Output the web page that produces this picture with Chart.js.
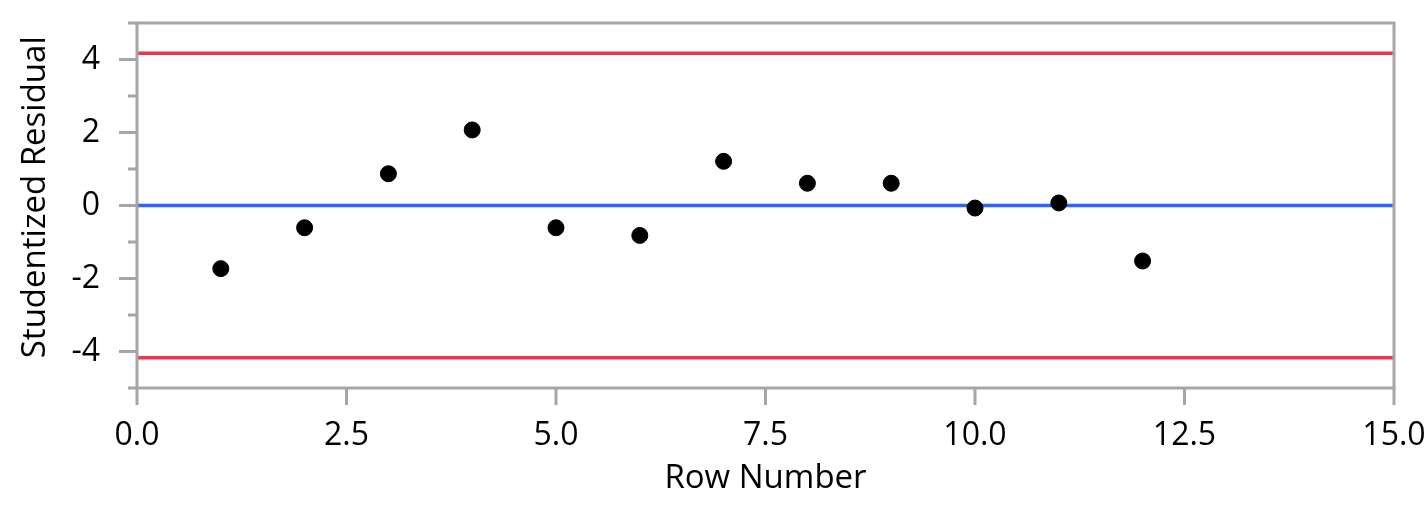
<!DOCTYPE html>
<html>
<head>
<meta charset="utf-8">
<script src="https://cdn.jsdelivr.net/npm/chart.js@4.4.1/dist/chart.umd.min.js"></script>
<style>
  html, body { margin: 0; padding: 0; background: #fff; }
  #wrap { width: 1428px; height: 517px; }
</style>
</head>
<body>
<div id="wrap"><canvas id="grafico" width="1428" height="517"></canvas></div>
<script>
// Datos
const filas = [1, 2, 3, 4, 5, 6, 7, 8, 9, 10, 11, 12];
const residuos = [-1.73, -0.61, 0.87, 2.07, -0.61, -0.82, 1.21, 0.61, 0.61, -0.07, 0.07, -1.52];
const limiteSup = 4.17;
const limiteInf = -4.17;
const centro = 0;
const marcasX = [0, 2.5, 5, 7.5, 10, 12.5, 15];
const marcasY = [-5, -4, -3, -2, -1, 0, 1, 2, 3, 4, 5];

const gris = '#a6a6a6';
const fuente = '"Open Sans", "Noto Sans", sans-serif';

// Marco y marcas de eje dibujadas con las escalas de Chart.js
const marco = {
  id: 'marco',
  afterDraw(chart) {
    const { ctx, chartArea: a, scales: { x, y } } = chart;
    ctx.save();
    ctx.strokeStyle = gris;
    ctx.lineWidth = 3;
    ctx.lineCap = 'butt';
    ctx.strokeRect(a.left, a.top, a.right - a.left, a.bottom - a.top);
    ctx.beginPath();
    // marcas mayores en pares, menores en impares
    y.ticks.forEach(t => {
      const py = y.getPixelForValue(t.value);
      const largo = t.value % 2 === 0 ? 18 : 9;
      ctx.moveTo(a.left - largo, py);
      ctx.lineTo(a.left, py);
    });
    x.ticks.forEach(t => {
      const px = x.getPixelForValue(t.value);
      ctx.moveTo(px, a.bottom);
      ctx.lineTo(px, a.bottom + 17);
    });
    ctx.stroke();
    ctx.restore();
  }
};

const lineaH = (valor, color) => ({
  type: 'line',
  data: [marcasX[0], marcasX[marcasX.length - 1]].map(v => ({ x: v, y: valor })),
  borderColor: color,
  borderWidth: 3.5,
  pointRadius: 0,
  fill: false
});

new Chart(document.getElementById('grafico'), {
  type: 'scatter',
  data: {
    datasets: [
      {
        data: filas.map((f, i) => ({ x: f, y: residuos[i] })),
        backgroundColor: '#000',
        borderColor: '#000',
        pointRadius: 8,
        pointHoverRadius: 8
      },
      lineaH(centro, 'rgb(41, 101, 255)'),
      lineaH(limiteSup, 'rgb(240, 52, 77)'),
      lineaH(limiteInf, 'rgb(240, 52, 77)')
    ]
  },
  options: {
    responsive: false,
    animation: false,
    layout: { padding: { left: 0, top: 23, right: 34, bottom: 0 } },
    plugins: { legend: { display: false }, tooltip: { enabled: false } },
    scales: {
      x: {
        type: 'linear',
        min: marcasX[0],
        max: marcasX[marcasX.length - 1],
        grid: { display: false, drawTicks: false },
        border: { display: false },
        ticks: {
          padding: 29,
          color: '#000',
          font: { family: fuente, size: 32 },
          maxRotation: 0,
          autoSkip: false,
          callback: v => v.toFixed(1)
        },
        title: {
          display: true,
          text: 'Row Number',
          color: '#000',
          font: { family: fuente, size: 33 },
          padding: { top: 0, bottom: 19 }
        },
        afterBuildTicks: s => { s.ticks = marcasX.map(v => ({ value: v })); },
        afterFit: s => { s.height = 129; s.paddingLeft = 0; s.paddingRight = 0; }
      },
      y: {
        type: 'linear',
        min: marcasY[0],
        max: marcasY[marcasY.length - 1],
        grid: { display: false, drawTicks: false },
        border: { display: false },
        ticks: {
          padding: 37,
          color: '#000',
          font: { family: fuente, size: 32 },
          autoSkip: false,
          callback: v => (v % 2 === 0 ? String(v) : '')
        },
        title: {
          display: true,
          // espacio inicial para subir un poco el título
          text: '\u2002Studentized Residual',
          color: '#000',
          font: { family: fuente, size: 33 },
          padding: { top: 16, bottom: 0 }
        },
        afterBuildTicks: s => { s.ticks = marcasY.map(v => ({ value: v })); },
        afterFit: s => { s.width = 137; s.paddingTop = 0; s.paddingBottom = 0; }
      }
    }
  },
  plugins: [marco]
});
</script>
</body>
</html>
